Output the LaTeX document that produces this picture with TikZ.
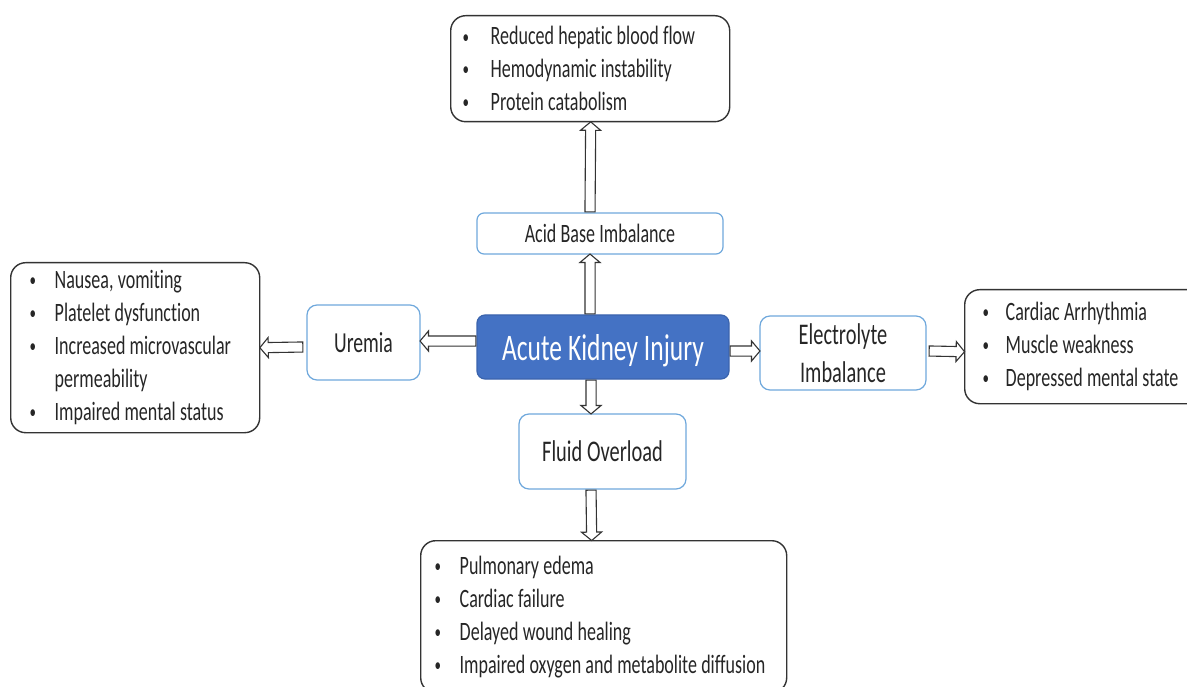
\documentclass[tikz,border=0pt]{standalone}
\usepackage{fontspec}
\setmainfont{Carlito}[FakeStretch=0.68, Ligatures=NoCommon]
\usetikzlibrary{shapes.arrows,calc}

\definecolor{edgeblue}{HTML}{6FA8DC}
\definecolor{akifill}{HTML}{4472C4}
\definecolor{akiedge}{HTML}{3B64AD}
\definecolor{ink}{HTML}{262626}
\definecolor{frame}{HTML}{333333}

% font size, line distance and a word space fitting the narrowed face
\newcommand\sizeto[2]{\fontsize{#1}{#2}\selectfont\spaceskip=0.16em\relax}

% one bulleted line and one continuation line of a list
\newcommand\listdot{\raisebox{1.8pt}{\scalebox{0.72}{\textbullet}}}
\newcommand\itm[2][25pt]{\mbox{\spaceskip=0.16em\relax\makebox[#1][l]{\listdot}#2}}
\newcommand\cont[2][25pt]{\mbox{\spaceskip=0.16em\relax\hspace*{#1}#2}}

% hollow block arrow from one named point to another
\newcommand\hollowarrow[2]{%
  \path let \p1=($(#2)-(#1)$), \n1={veclen(\x1,\y1)} in
    (#1) -- (#2) node[blockarrow, minimum height=\n1] {};}

\begin{document}
\begin{tikzpicture}[x=1pt, y=-1pt,
  listbox/.style={draw=frame, line width=1.4pt, rounded corners=15pt,
    anchor=north west, align=left, text=ink, inner ysep=0pt,
    font=\sizeto{26.5}{33}},
  termbox/.style={draw=edgeblue, line width=1.2pt, rounded corners=10pt,
    fill=white, text=ink, align=center, inner sep=0pt, text depth=0pt},
  blockarrow/.style={single arrow, draw=frame, fill=white, line width=1.1pt,
    inner xsep=0pt, inner ysep=4.5pt, single arrow head extend=5pt,
    single arrow tip angle=100, single arrow head indent=0pt,
    sloped, allow upside down, at start, anchor=tail}]

\useasboundingbox (0,0) rectangle (1187,687);
\clip (0,0) rectangle (1187,687);

% central condition
\node[draw=akiedge, fill=akifill, text=white, line width=1.2pt,
  rounded corners=8pt, inner sep=0pt, text depth=0pt,
  minimum width=252pt, minimum height=64pt,
  font=\sizeto{37.5}{40}] (aki) at (603,347) {Acute Kidney Injury};

% complications
\node[termbox, rounded corners=7pt, minimum width=246pt, minimum height=41pt,
  font=\sizeto{26.5}{30}] (acid) at (600,233.5) {Acid Base Imbalance};
\node[termbox, minimum width=113pt, minimum height=75pt,
  font=\sizeto{29}{34}] (urem) at (363.5,342.5) {Uremia};
\node[termbox, minimum width=166pt, minimum height=74pt,
  font=\sizeto{30}{38}] (elec) at (843,353) {Electrolyte\\Imbalance};
\node[termbox, minimum width=167pt, minimum height=75pt,
  font=\sizeto{30}{34}] (fluid) at (602.5,451.5) {Fluid Overload};

% consequences
\node[listbox, inner xsep=12pt, text width=255pt, minimum height=106pt]
  (acidlist) at (450,15) {\itm[28pt]{Reduced hepatic blood flow}\\
  \itm[28pt]{Hemodynamic instability}\\ \itm[28pt]{Protein catabolism}};
\node[listbox, inner xsep=19pt, text width=211pt, minimum height=170pt]
  (uremlist) at (10,262) {\itm{Nausea, vomiting}\\ \itm{Platelet dysfunction}\\
  \itm{Increased microvascular}\\ \cont{permeability}\\ \itm{Impaired mental status}};
\node[listbox, inner xsep=18pt, text width=204pt, minimum height=114pt]
  (eleclist) at (964,289) {\itm[23pt]{Cardiac Arrhythmia}\\ \itm[23pt]{Muscle weakness}\\
  \itm[23pt]{Depressed mental state}};
\node[listbox, inner xsep=14pt, text width=338pt, minimum height=152pt]
  (fluidlist) at (420,540) {\itm{Pulmonary edema}\\ \itm{Cardiac failure}\\
  \itm{Delayed wound healing}\\ \itm{Impaired oxygen and metabolite diffusion}};

% arrow end points on the box borders
\coordinate (a1) at ([xshift=-13pt]aki.north);
\coordinate (a2) at ([xshift=-10pt]acid.south);
\coordinate (a3) at ([xshift=-10pt]acid.north);
\coordinate (a4) at ([xshift=0.5pt]acidlist.south);
\coordinate (b1) at ([yshift=6pt]aki.west);
\coordinate (b2) at ([yshift=1.5pt]urem.east);
\coordinate (b3) at ([xshift=-3pt,yshift=-4.5pt]urem.west);
\coordinate (b4) at (uremlist.east);
\coordinate (c1) at ([yshift=-4pt]aki.east);
\coordinate (c2) at ([yshift=2pt]elec.west);
\coordinate (c3) at ([xshift=2pt,yshift=2pt]elec.east);
\coordinate (c4) at ([yshift=-5pt]eleclist.west);
\coordinate (d1) at ([xshift=-12pt]aki.south);
\coordinate (d2) at ([xshift=-11.5pt]fluid.north);
\coordinate (d3) at ([xshift=-11.5pt]fluid.south);
\coordinate (d4) at ([xshift=-12pt]fluidlist.north);

\hollowarrow{a1}{a2}
\hollowarrow{a3}{a4}
\hollowarrow{b1}{b2}
\hollowarrow{b3}{b4}
\hollowarrow{c1}{c2}
\hollowarrow{c3}{c4}
\hollowarrow{d1}{d2}
\hollowarrow{d3}{d4}
\end{tikzpicture}
\end{document}
